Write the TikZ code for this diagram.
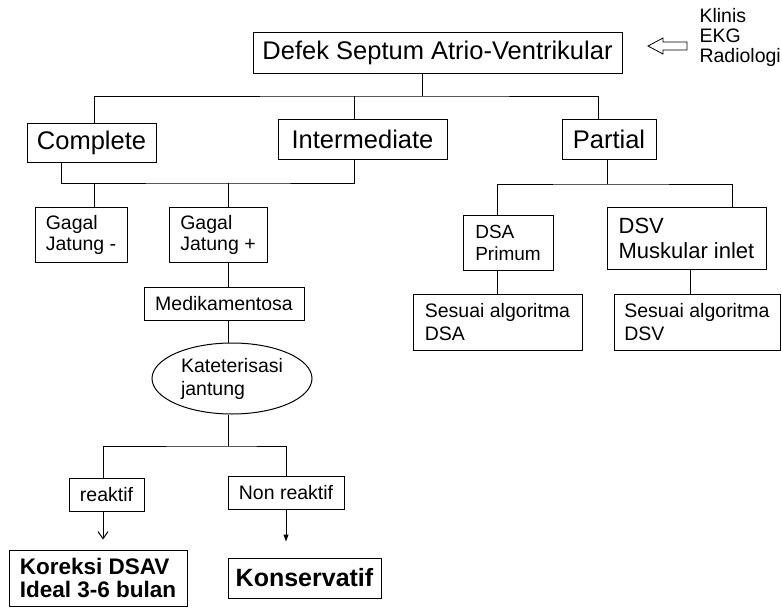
\documentclass[tikz,border=0pt]{standalone}
\usepackage{fontspec}
\setmainfont{Liberation Sans}
\usetikzlibrary{shapes.geometric,arrows.meta}

\tikzset{
  box/.style={draw, line width=1pt, inner sep=0pt, align=left},
  bigtext/.style={font=\fontsize{25.5}{28}\selectfont},
  smalltext/.style={font=\fontsize{19.5}{21}\selectfont},
  link/.style={line width=1pt},
}

\begin{document}
\begin{tikzpicture}[x=1pt, y=-1pt]
\useasboundingbox (0,0) rectangle (782,608);

% Main box and its inputs
\node[box, bigtext, minimum width=369, minimum height=41] (dsav) at (437.5,52.5) {Defek Septum Atrio-Ventrikular};
\node[anchor=west, align=left, font=\fontsize{19.5}{20}\selectfont] (input) at (696,37.5) {Klinis\\EKG\\Radiologi};
\draw[line width=0.8pt] (687,42) -- (663,42) -- (663,38) -- (648,46) -- (663,54) -- (663,50) -- (687,50) -- cycle;

% Types
\node[box, bigtext, minimum width=129, minimum height=39] (complete) at (91.5,142.5) {Complete};
\node[box, bigtext, minimum width=169, minimum height=40] (inter) at (362.5,139) {Intermediate};
\node[box, bigtext, minimum width=94, minimum height=40] (partial) at (609,139) {Partial};

% Complete / Intermediate branch
\node[box, smalltext, minimum width=92, minimum height=55] (gjminus) at (81,234.5) {Gagal\\Jatung -};
\node[box, smalltext, minimum width=98, minimum height=55] (gjplus) at (218,234.5) {Gagal\\Jatung +};
\node[box, smalltext, minimum width=160, minimum height=33] (medik) at (224,303.5) {Medikamentosa};
\node[box, ellipse, font=\fontsize{19.5}{23}\selectfont, minimum width=160, minimum height=71] (kat) at (232,378.5) {Kateterisasi\\jantung};
\node[box, smalltext, minimum width=75, minimum height=33] (reaktif) at (106.5,494.5) {reaktif};
\node[box, smalltext, minimum width=116, minimum height=33] (nonreaktif) at (286,492.5) {Non reaktif};
\node[box, font=\fontsize{22.5}{23}\selectfont\bfseries, minimum width=178, minimum height=56] (koreksi) at (98,578) {Koreksi DSAV\\Ideal 3-6 bulan};
\node[box, font=\fontsize{25}{28}\selectfont\bfseries, minimum width=153, minimum height=40] (konserv) at (304.5,578) {Konservatif};

% Partial branch
\node[box, font=\fontsize{19}{22}\selectfont, minimum width=90, minimum height=55] (dsa) at (508,242.5) {DSA\\Primum};
\node[box, font=\fontsize{22}{25}\selectfont, minimum width=159, minimum height=62] (dsv) at (686.5,238) {DSV\\Muskular inlet};
\node[box, font=\fontsize{19.5}{23}\selectfont, minimum width=169, minimum height=56] (sesdsa) at (497.5,322) {Sesuai algoritma\\DSA};
\node[box, font=\fontsize{19.5}{23}\selectfont, minimum width=166, minimum height=56] (sesdsv) at (697,322) {Sesuai algoritma\\DSV};

% Branches below the main box
\coordinate (top) at (422,96);
\draw[link] (top |- dsav.south) -- (top);
\draw[link] ([xshift=2.5pt]complete.north) |- (top) -| ([xshift=-11pt]partial.north);
\draw[link] ([xshift=-8.5pt]inter.north) -- ([xshift=-8.5pt]inter.north |- top);

% Complete and Intermediate join
\coordinate (mid) at (228,183);
\draw[link] ([xshift=-30.5pt]complete.south) |- (mid) -| ([xshift=-8.5pt]inter.south);
\draw[link] ([xshift=13pt]gjminus.north) -- ([xshift=13pt]gjminus.north |- mid);
\draw[link] (mid) -- (mid |- gjplus.north);
\draw[link] (mid |- gjplus.south) -- (mid |- medik.north);
\draw[link] (mid |- medik.south) -- (mid |- kat.north);

% Outcome of catheterisation
\coordinate (split) at (228,446);
\draw[link] (split |- kat.south) -- (split);
\draw[link] ([xshift=-3.5pt]reaktif.north) |- (split) -| (nonreaktif.north);
\draw[link, -{Straight Barb[length=7pt, width=10pt]}, shorten >=10pt] ([xshift=-3.5pt]reaktif.south) -- ([xshift=-3.5pt]reaktif.south |- koreksi.north);
\draw[link, -{Triangle[length=7pt, width=5pt]}, shorten >=16pt] (nonreaktif.south) -- (nonreaktif.south |- konserv.north);

% Partial split
\coordinate (right) at (607,184);
\draw[link] ([xshift=-2pt]partial.south) -- (right);
\draw[link] ([xshift=-11pt]dsa.north) |- (right) -| ([xshift=45.5pt]dsv.north);
\draw[link] ([xshift=-11pt]dsa.south) -- ([xshift=-11pt]dsa.south |- sesdsa.north);
\draw[link] ([xshift=3.5pt]dsv.south) -- ([xshift=3.5pt]dsv.south |- sesdsv.north);

\end{tikzpicture}
\end{document}
